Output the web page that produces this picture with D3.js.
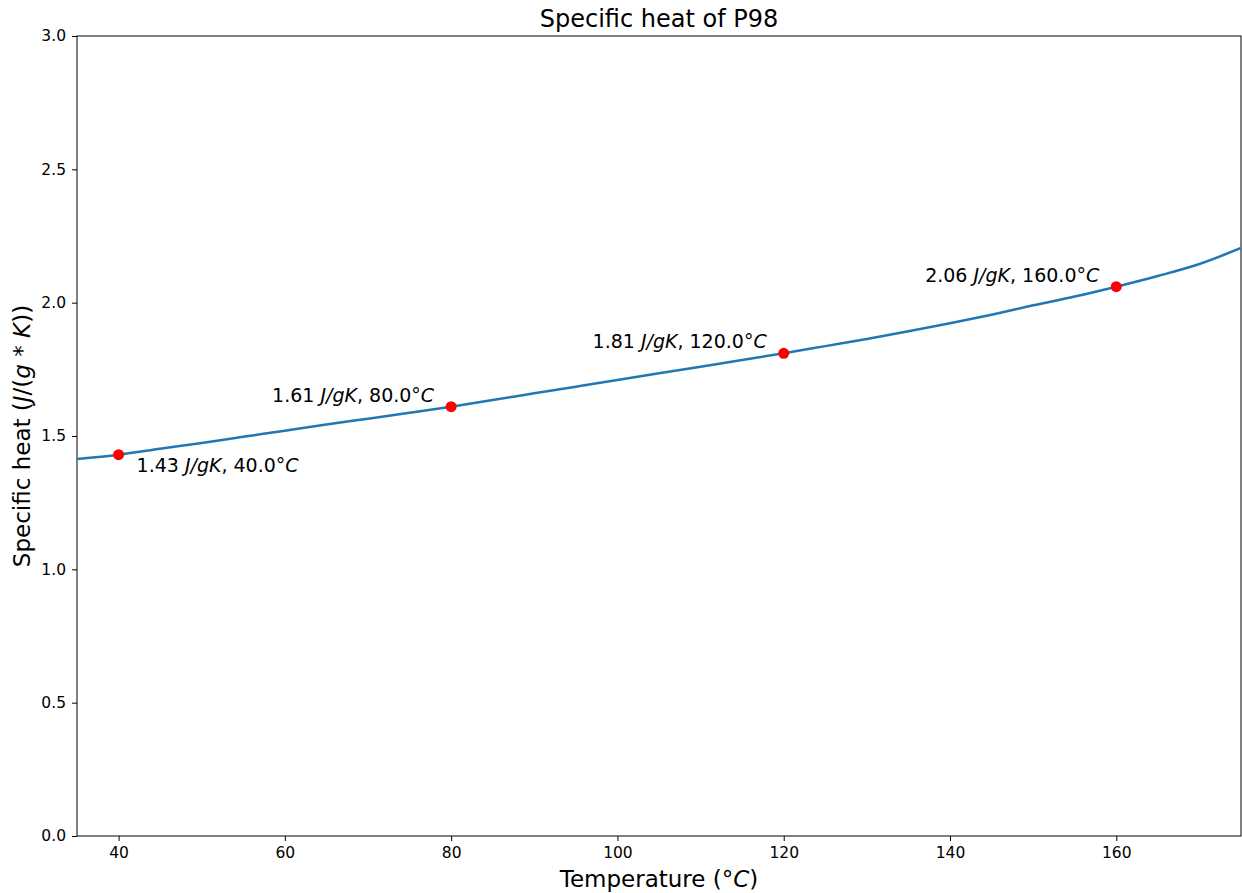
<!DOCTYPE html>
<html>
<head>
<meta charset="utf-8">
<script src="https://d3js.org/d3.v7.min.js"></script>
<style>
  body { margin: 0; background: #fff; }
  svg { font-family: "DejaVu Sans", sans-serif; }
</style>
</head>
<body>
<svg width="1242" height="893"></svg>
<script>
// curve
var temps = [35, 40, 45, 50, 55, 60, 65, 70, 75, 80, 85, 90, 95, 100, 105, 110, 115, 120, 125, 130, 135, 140, 145, 150, 155, 160, 165, 170, 175];
var heat  = [1.414, 1.43, 1.452, 1.474, 1.497, 1.52, 1.543, 1.565, 1.587, 1.61, 1.635, 1.66, 1.685, 1.71, 1.735, 1.76, 1.785, 1.81, 1.837, 1.864, 1.893, 1.923, 1.955, 1.99, 2.023, 2.06, 2.1, 2.145, 2.205];

// marked points
var markTemps = [40, 80, 120, 160];
var markHeat  = [1.43, 1.61, 1.81, 2.06];

var xTicks = [40, 60, 80, 100, 120, 140, 160];
var yTicks = [0.0, 0.5, 1.0, 1.5, 2.0, 2.5, 3.0];

var svg = d3.select('svg');
var plotLeft = 77, plotRight = 1241, plotTop = 36, plotBottom = 836;

var x = d3.scaleLinear().domain([35, 175]).range([plotLeft, plotRight]);
var y = d3.scaleLinear().domain([0, 3]).range([plotBottom, plotTop]);

// axes
var xAxis = svg.append('g')
  .attr('transform', 'translate(0,' + plotBottom + ')')
  .call(d3.axisBottom(x).tickValues(xTicks).tickSize(5).tickPadding(6).tickFormat(d3.format('d')));
var yAxis = svg.append('g')
  .attr('transform', 'translate(' + plotLeft + ',0)')
  .call(d3.axisLeft(y).tickValues(yTicks).tickSize(5).tickPadding(6).tickFormat(d3.format('.1f')));

[xAxis, yAxis].forEach(function(a){
  a.select('.domain').remove();
  a.selectAll('text').style('font-size', '15.5px').style('font-family', '"DejaVu Sans", sans-serif').attr('fill', '#000');
  a.selectAll('line').attr('stroke', '#000');
});

// frame
svg.append('rect')
  .attr('x', plotLeft).attr('y', plotTop)
  .attr('width', plotRight - plotLeft).attr('height', plotBottom - plotTop)
  .attr('fill', 'none').attr('stroke', '#000').attr('stroke-width', 1);

// clip
svg.append('clipPath').attr('id', 'clip')
  .append('rect').attr('x', plotLeft).attr('y', plotTop).attr('width', plotRight - plotLeft).attr('height', plotBottom - plotTop);

var line = d3.line()
  .x(function(d, i){ return x(temps[i]); })
  .y(function(d){ return y(d); })
  .curve(d3.curveMonotoneX);

svg.append('path')
  .datum(heat)
  .attr('clip-path', 'url(#clip)')
  .attr('d', line)
  .attr('fill', 'none')
  .attr('stroke', '#1f77b4')
  .attr('stroke-width', 2.5);

svg.selectAll('circle.mark')
  .data(markHeat)
  .enter().append('circle')
  .attr('class', 'mark')
  .attr('cx', function(d, i){ return x(markTemps[i]); })
  .attr('cy', function(d){ return y(d); })
  .attr('r', 5.5)
  .attr('fill', 'red');

// annotations
var labels = svg.selectAll('text.ann')
  .data(markHeat)
  .enter().append('text')
  .attr('class', 'ann')
  .style('font-size', '19px')
  .attr('x', function(d, i){ return i === 0 ? x(markTemps[i]) + 18 : x(markTemps[i]) - 17; })
  .attr('y', function(d, i){ return i === 0 ? y(d) + 17 : y(d) - 5; })
  .attr('text-anchor', function(d, i){ return i === 0 ? 'start' : 'end'; });

labels.each(function(d, i){
  var t = d3.select(this);
  t.append('tspan').text(d.toFixed(2) + ' ');
  t.append('tspan').style('font-style', 'italic').text('J/gK');
  t.append('tspan').text(', ' + markTemps[i].toFixed(1) + '°');
  t.append('tspan').style('font-style', 'italic').text('C');
});

// title
svg.append('text')
  .attr('x', (plotLeft + plotRight) / 2).attr('y', 27)
  .attr('text-anchor', 'middle')
  .style('font-size', '24px')
  .text('Specific heat of P98');

// x label
var xl = svg.append('text')
  .attr('x', (plotLeft + plotRight) / 2).attr('y', 887)
  .attr('text-anchor', 'middle')
  .style('font-size', '23px');
xl.append('tspan').text('Temperature (°');
xl.append('tspan').style('font-style', 'italic').text('C');
xl.append('tspan').text(')');

// y label
var yl = svg.append('text')
  .attr('transform', 'translate(30,' + (plotTop + plotBottom) / 2 + ') rotate(-90)')
  .attr('text-anchor', 'middle')
  .style('font-size', '23px');
yl.append('tspan').text('Specific heat (');
yl.append('tspan').style('font-style', 'italic').text('J');
yl.append('tspan').text('/(');
yl.append('tspan').style('font-style', 'italic').text('g');
yl.append('tspan').text(' * ');
yl.append('tspan').style('font-style', 'italic').text('K');
yl.append('tspan').text('))');
</script>
</body>
</html>
